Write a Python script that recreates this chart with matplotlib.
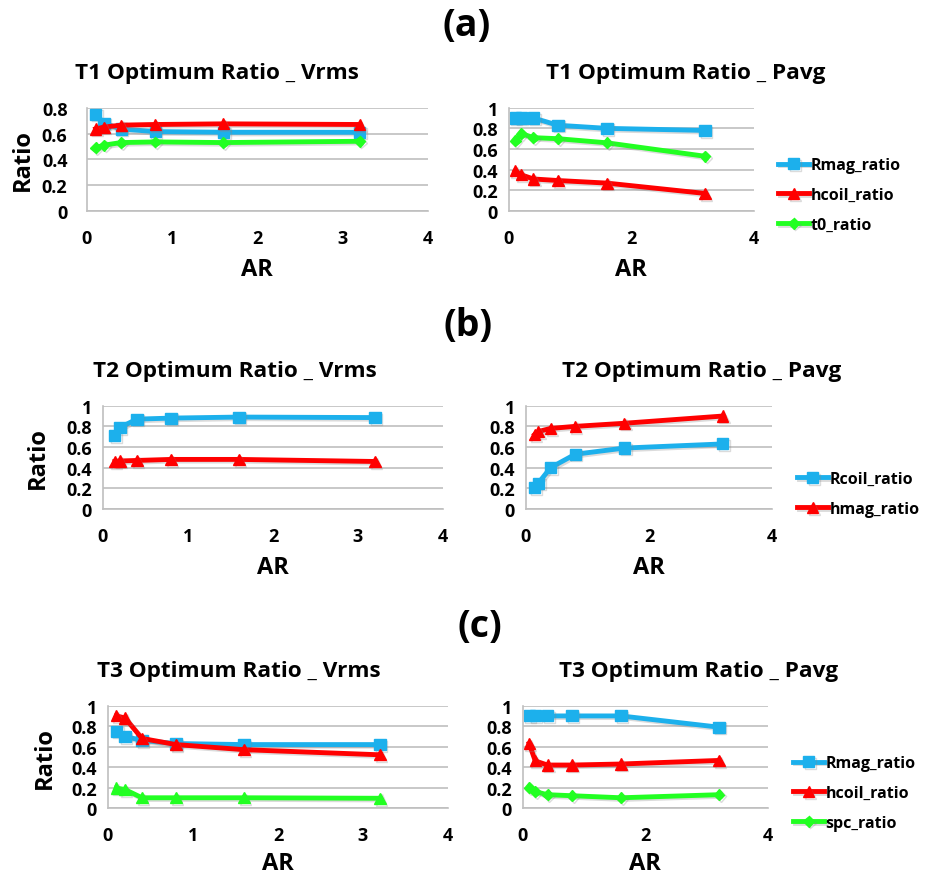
import matplotlib
matplotlib.use("Agg")
import matplotlib.pyplot as plt
import matplotlib.patheffects as pe

plt.rcParams['font.family'] = ['Open Sans', 'DejaVu Sans']
plt.rcParams['font.weight'] = 'bold'

BLUE = '#1CB0EC'
RED = '#FF0000'
GREEN = '#22FF22'
GRID = '#BFBFBF'

W, H = 928, 879

# ---- data ----
ar_a = [0.1, 0.2, 0.4, 0.8, 1.6, 3.2]
ar_b = [0.14, 0.2, 0.4, 0.8, 1.6, 3.2]
ar_c = [0.1, 0.2, 0.4, 0.8, 1.6, 3.2]

t1v_rmag = [0.75, 0.68, 0.635, 0.615, 0.61, 0.61]
t1v_hcoil = [0.635, 0.65, 0.665, 0.67, 0.675, 0.67]
t1v_t0 = [0.49, 0.51, 0.53, 0.535, 0.53, 0.54]

t1p_rmag = [0.90, 0.90, 0.90, 0.83, 0.80, 0.78]
t1p_hcoil = [0.39, 0.35, 0.31, 0.295, 0.27, 0.17]
t1p_t0 = [0.68, 0.75, 0.71, 0.70, 0.66, 0.53]

t2v_rcoil = [0.71, 0.79, 0.87, 0.88, 0.89, 0.885]
t2v_hmag = [0.46, 0.465, 0.47, 0.48, 0.48, 0.46]

t2p_rcoil = [0.21, 0.25, 0.40, 0.53, 0.59, 0.63]
t2p_hmag = [0.72, 0.75, 0.78, 0.80, 0.83, 0.90]

t3v_rmag = [0.75, 0.70, 0.66, 0.63, 0.62, 0.62]
t3v_hcoil = [0.90, 0.88, 0.68, 0.62, 0.57, 0.52]
t3v_spc = [0.195, 0.18, 0.10, 0.10, 0.10, 0.095]

t3p_rmag = [0.90, 0.90, 0.90, 0.90, 0.90, 0.79]
t3p_hcoil = [0.63, 0.46, 0.42, 0.42, 0.43, 0.465]
t3p_spc = [0.20, 0.16, 0.13, 0.12, 0.10, 0.13]

fig = plt.figure(figsize=(W / 100, H / 100), dpi=100)
fig.patch.set_facecolor('white')

shadow = [pe.SimpleLineShadow(offset=(1.2, -1.2), shadow_color='#888888', alpha=0.3), pe.Normal()]


def make_ax(x0, x1, ytop, ybot, ymax, xticks, ypad):
    ax = fig.add_axes([x0 / W, 1 - ybot / H, (x1 - x0) / W, (ybot - ytop) / H])
    ax.set_xlim(0, 4)
    ax.set_ylim(0, ymax)
    ax.set_xticks(xticks)
    yt = [i * 0.2 for i in range(int(round(ymax / 0.2)) + 1)]
    ax.set_yticks(yt)
    ax.set_yticklabels(['0' if v == 0 else ('1' if abs(v - 1) < 1e-9 else '%.1f' % v) for v in yt])
    for s in ['top', 'right']:
        ax.spines[s].set_visible(False)
    for s in ['left', 'bottom']:
        ax.spines[s].set_color(GRID)
        ax.spines[s].set_linewidth(1.2)
    ax.grid(axis='y', color=GRID, linewidth=1.2)
    ax.set_axisbelow(True)
    ax.tick_params(length=0, labelsize=13, pad=ypad, axis='y')
    ax.tick_params(length=0, labelsize=13, pad=13, axis='x')
    for lab in ax.get_xticklabels() + ax.get_yticklabels():
        lab.set_fontweight('bold')
    return ax


def series(ax, x, y, color, marker, ms, label):
    ln, = ax.plot(x, y, color=color, lw=3.5, marker=marker, ms=ms, mec=color,
                  mfc=color, label=label, clip_on=False, path_effects=shadow)
    return ln


def ylab(x, ycen):
    fig.text(x / W, 1 - ycen / H, 'Ratio', rotation=90, ha='center', va='center',
             fontsize=17, fontweight='bold')


def xlab(xcen, y):
    fig.text(xcen / W, 1 - y / H, 'AR', ha='center', va='center', fontsize=17, fontweight='bold')


def title(xcen, y, s):
    fig.text(xcen / W, 1 - y / H, s, ha='center', va='center', fontsize=16.2, fontweight='bold')


def panel(xcen, y, s):
    fig.text(xcen / W, 1 - y / H, s, ha='center', va='center', fontsize=27, fontweight='bold')


def legend(ax, xleft, ycen):
    leg = ax.legend(loc='center left', bbox_to_anchor=(xleft / W, 1 - ycen / H),
                    bbox_transform=fig.transFigure, frameon=False, fontsize=11.5,
                    handlelength=1.95, handletextpad=0.1, labelspacing=0.87, borderaxespad=0,
                    borderpad=0)
    for t in leg.get_texts():
        t.set_fontweight('bold')


# ---- (a) ----
panel(467, 26, '(a)')
ax = make_ax(87, 428, 108.7, 212, 0.8, [0, 1, 2, 3, 4], 14)
series(ax, ar_a, t1v_rmag, BLUE, 's', 8, 'Rmag_ratio')
series(ax, ar_a, t1v_hcoil, RED, '^', 8, 'hcoil_ratio')
series(ax, ar_a, t1v_t0, GREEN, 'D', 5.5, 't0_ratio')
title(217, 73, 'T1 Optimum Ratio _ Vrms')
ylab(23, 160)
xlab(257, 270)

ax = make_ax(509, 754, 108.7, 212, 1.0, [0, 2, 4], 8)
series(ax, ar_a, t1p_rmag, BLUE, 's', 8, 'Rmag_ratio')
series(ax, ar_a, t1p_hcoil, RED, '^', 8, 'hcoil_ratio')
series(ax, ar_a, t1p_t0, GREEN, 'D', 5.5, 't0_ratio')
title(686, 73, 'T1 Optimum Ratio _ Pavg')
xlab(631, 270)
legend(ax, 778, 196)

# ---- (b) ----
panel(468, 326, '(b)')
ax = make_ax(103, 443, 406.7, 510, 1.0, [0, 1, 2, 3, 4], 8)
series(ax, ar_b, t2v_rcoil, BLUE, 's', 8, 'Rcoil_ratio')
series(ax, ar_b, t2v_hmag, RED, '^', 8, 'hmag_ratio')
title(235, 372, 'T2 Optimum Ratio _ Vrms')
ylab(38, 458)
xlab(273, 568)

ax = make_ax(526, 772, 406.7, 510, 1.0, [0, 2, 4], 8)
series(ax, ar_b, t2p_rcoil, BLUE, 's', 8, 'Rcoil_ratio')
series(ax, ar_b, t2p_hmag, RED, '^', 8, 'hmag_ratio')
title(702, 372, 'T2 Optimum Ratio _ Pavg')
xlab(649, 568)
legend(ax, 797, 495)

# ---- (c) ----
panel(480, 627, '(c)')
ax = make_ax(108, 448, 706.7, 809, 1.0, [0, 1, 2, 3, 4], 8)
series(ax, ar_c, t3v_rmag, BLUE, 's', 8, 'Rmag_ratio')
series(ax, ar_c, t3v_hcoil, RED, '^', 8, 'hcoil_ratio')
series(ax, ar_c, t3v_spc, GREEN, '^', 8, 'spc_ratio')
title(239, 672, 'T3 Optimum Ratio _ Vrms')
ylab(45, 758)
xlab(278, 864)

ax = make_ax(523, 768, 706.7, 809, 1.0, [0, 2, 4], 8)
series(ax, ar_c, t3p_rmag, BLUE, 's', 8, 'Rmag_ratio')
series(ax, ar_c, t3p_hcoil, RED, '^', 8, 'hcoil_ratio')
series(ax, ar_c, t3p_spc, GREEN, 'D', 5.5, 'spc_ratio')
title(699, 672, 'T3 Optimum Ratio _ Pavg')
xlab(645, 864)
legend(ax, 793, 794)

fig.savefig('out.png', dpi=100)
